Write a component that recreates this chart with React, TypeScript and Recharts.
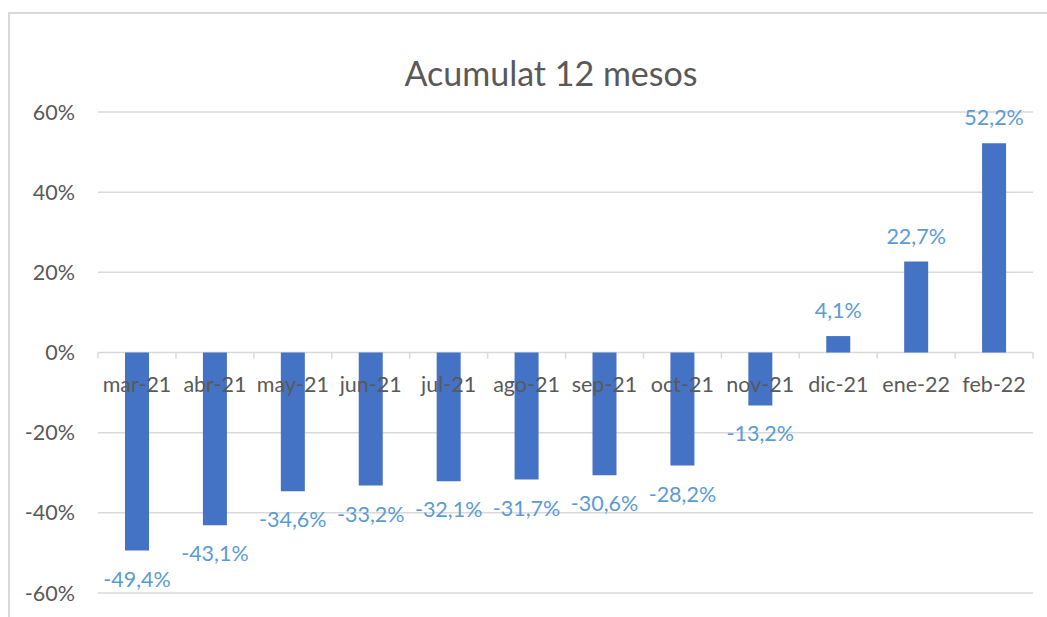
import React from "react";
import { BarChart, Bar, XAxis, YAxis, CartesianGrid, LabelList } from "recharts";

const categories = ["mar-21", "abr-21", "may-21", "jun-21", "jul-21", "ago-21", "sep-21", "oct-21", "nov-21", "dic-21", "ene-22", "feb-22"];
const values = [-49.4, -43.1, -34.6, -33.2, -32.1, -31.7, -30.6, -28.2, -13.2, 4.1, 22.7, 52.2];
const yTicks = [-60, -40, -20, 0, 20, 40, 60];
const title = "Acumulat 12 mesos";

const data = categories.map((c, i) => ({ cat: c, v: values[i] }));

const W = 1047;
const H = 617;
const PLOT_LEFT = 98;
const PLOT_RIGHT = 1033;
const PLOT_TOP = 112;
const PLOT_BOTTOM = 593;
const Y_MIN = yTicks[0];
const Y_MAX = yTicks[yTicks.length - 1];
const ZERO_Y = PLOT_TOP + ((PLOT_BOTTOM - PLOT_TOP) * (Y_MAX - 0)) / (Y_MAX - Y_MIN);
const BAND = (PLOT_RIGHT - PLOT_LEFT) / categories.length;

const FONT = "Lato, 'Open Sans', sans-serif";
const AXIS_COLOR = "#595959";
const GRID = "#d9d9d9";
const FS = 21.5;

const fmt = (v: number) => v.toFixed(1).replace(".", ",") + "%";

const CatLabel = (props: any) => {
  const { x, width, index } = props;
  const cx = x + width / 2;
  const last = index === categories.length - 1;
  return (
    <g>
      <line x1={cx - BAND / 2} x2={cx - BAND / 2} y1={ZERO_Y} y2={ZERO_Y + 6} stroke={GRID} strokeWidth={1.5} />
      {last && <line x1={cx + BAND / 2} x2={cx + BAND / 2} y1={ZERO_Y} y2={ZERO_Y + 6} stroke={GRID} strokeWidth={1.5} />}
      <text x={cx} y={ZERO_Y + 31} textAnchor="middle" dominantBaseline="central" fill={AXIS_COLOR} fontSize={FS} fontFamily={FONT}>
        {categories[index]}
      </text>
    </g>
  );
};

const ValueLabel = (props: any) => {
  const { x, y, width, height, value } = props;
  const top = Math.min(y, y + height);
  const bottom = Math.max(y, y + height);
  const cx = x + width / 2;
  const ly = value >= 0 ? top - 26 : bottom + 28;
  return (
    <text x={cx} y={ly} textAnchor="middle" dominantBaseline="central" fill="#5B9BD5" fontSize={FS} fontFamily={FONT}>
      {fmt(value)}
    </text>
  );
};

export default function App() {
  return (
    <div style={{ position: "absolute", left: 0, top: 0, width: W, height: H, overflow: "hidden", background: "#fff" }}>
      <div style={{ position: "absolute", left: 8, top: 12, width: 1200, height: 800, border: `2px solid ${GRID}`, boxSizing: "border-box" }} />
      <div style={{ position: "absolute", left: 0, top: 52, width: 1102, textAlign: "center", fontFamily: FONT, fontSize: 34, color: AXIS_COLOR, lineHeight: "42px" }}>
        {title}
      </div>
      <div style={{ position: "absolute", left: 0, top: 0 }}>
        <BarChart width={W} height={H} data={data} margin={{ top: PLOT_TOP, right: W - PLOT_RIGHT, bottom: H - PLOT_BOTTOM, left: 0 }}>
          <CartesianGrid vertical={false} stroke={GRID} strokeWidth={1.5} />
          <XAxis dataKey="cat" hide />
          <YAxis
            width={PLOT_LEFT}
            domain={[Y_MIN, Y_MAX]}
            ticks={yTicks}
            tickFormatter={(v: number) => v + "%"}
            axisLine={false}
            tickLine={false}
            tickSize={0}
            tickMargin={23}
            tick={{ fill: AXIS_COLOR, fontSize: FS, fontFamily: FONT }}
            interval={0}
          />
          <Bar dataKey="v" fill="#4472C4" barSize={24} isAnimationActive={false}>
            <LabelList dataKey="v" content={<CatLabel />} />
            <LabelList dataKey="v" content={<ValueLabel />} />
          </Bar>
        </BarChart>
      </div>
    </div>
  );
}
